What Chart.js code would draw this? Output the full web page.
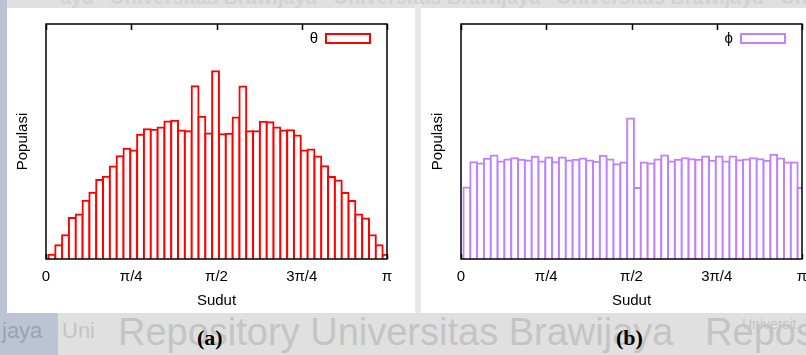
<!DOCTYPE html>
<html>
<head>
<meta charset="utf-8">
<script src="https://cdn.jsdelivr.net/npm/chart.js@4.4.1/dist/chart.umd.min.js"></script>
<style>
html,body{margin:0;padding:0;width:806px;height:355px;overflow:hidden;background:#e0e0e0;position:relative;}
#strip{position:absolute;left:0;top:0;width:7px;height:313px;background:#bcc3d4;}
#strip2{position:absolute;left:0;top:313px;width:58px;height:42px;background:#bcc3d4;}
#gap{position:absolute;left:415px;top:0;width:6px;height:313px;background:#e8e8e8;}
.panel{position:absolute;background:#fff;top:8px;height:305px;}
canvas{position:absolute;top:0;}
.cap{position:absolute;top:325px;font:bold 22px "Liberation Serif",serif;color:#000;}
.wm{position:absolute;font-family:"Liberation Sans",sans-serif;color:#c4c4c4;white-space:nowrap;}
</style>
</head>
<body>
<div id="strip"></div>
<div id="strip2"></div>
<div id="gap"></div>
<div class="wm" style="left:60px;top:-14px;font-size:20px;font-weight:bold;color:#d2d2d2;">aya &nbsp; Universitas Brawijaya &nbsp; Universitas Brawijaya &nbsp; Universitas Brawijaya &nbsp; Universitas</div>
<div class="wm" style="left:2px;top:318px;font-size:22px;color:#9aa2b4;">jaya</div>
<div class="wm" style="left:62px;top:318px;font-size:22px;">Uni</div>
<div class="wm" style="left:118px;top:311px;font-size:38px;">Repository Universitas Brawijaya &nbsp; Reposi</div>
<div class="wm" style="left:742px;top:316px;font-size:14px;">Universit</div>
<div class="panel" style="left:7px;width:408px;"></div>
<div class="panel" style="left:421px;width:385px;"></div>
<canvas id="c1" width="415" height="320" style="left:0px;"></canvas>
<canvas id="c2" width="415" height="320" style="left:415px;"></canvas>
<div class="cap" style="left:197px;">(a)</div>
<div class="cap" style="left:616px;">(b)</div>
<script>
// ---- data ----
const binCount = 50;
const binOffset = 0.86; // bin centres relative to bin index, in bin widths
const tickValues = [0, Math.PI / 4, Math.PI / 2, 3 * Math.PI / 4, Math.PI];
const tickLabels = ['0', 'π/4', 'π/2', '3π/4', 'π'];
const thetaValues = [13, 41, 71, 123, 134, 175, 199, 237, 247, 278,
                     309, 331, 326, 373, 390, 388, 395, 413, 415, 386,
                     384, 519, 427, 377, 564, 375, 376, 425, 518, 384,
                     384, 412, 411, 395, 386, 387, 371, 326, 329, 308,
                     279, 246, 236, 198, 174, 134, 122, 71, 41, 13];
const phiValues = [215, 291, 287, 301, 311, 293, 299, 303, 298, 296,
                   307, 293, 305, 291, 305, 296, 298, 302, 296, 292,
                   310, 299, 285, 290, 422, 213, 290, 287, 299, 311,
                   293, 298, 303, 300, 298, 308, 295, 308, 293, 308,
                   297, 299, 303, 300, 295, 313, 302, 290, 290, 213];
const yMax = 706;
const binCenters = thetaValues.map((_, i) => (i + binOffset) * Math.PI / binCount);

const FONT = '"Liberation Sans", Arial, sans-serif';

const framePlugin = {
  id: 'frame',
  beforeDatasetsDraw(chart) {
    const {ctx, chartArea: a, scales: {x}} = chart;
    ctx.save();
    ctx.strokeStyle = '#000';
    ctx.lineWidth = 1.5;
    tickValues.forEach(v => {
      const px = Math.round(x.getPixelForValue(v)) + 0.5;
      ctx.beginPath();
      ctx.moveTo(px, a.bottom);
      ctx.lineTo(px, a.bottom - 5);
      ctx.stroke();
    });
    ctx.restore();
  },
  afterDatasetsDraw(chart) {
    const {ctx, chartArea: a, scales: {x}} = chart;
    const ds = chart.data.datasets[0];
    ctx.save();
    ctx.strokeStyle = '#000';
    ctx.lineWidth = 1.5;
    tickValues.forEach(v => {
      const px = Math.round(x.getPixelForValue(v)) + 0.5;
      ctx.beginPath();
      ctx.moveTo(px, a.top);
      ctx.lineTo(px, a.top + 6);
      ctx.stroke();
    });
    ctx.strokeRect(a.left, a.top, a.right - a.left, a.bottom - a.top);
    // legend
    const bx = a.right - 61, by = a.top + 10;
    ctx.strokeStyle = ds.borderColor;
    ctx.lineWidth = 2;
    ctx.strokeRect(bx, by, 44, 9);
    ctx.fillStyle = '#000';
    ctx.font = '15px ' + FONT;
    ctx.textAlign = 'right';
    ctx.textBaseline = 'middle';
    ctx.fillText(ds.label, bx - 8, by + 5);
    ctx.restore();
  }
};

function makeChart(id, label, values, color) {
  return new Chart(document.getElementById(id), {
    type: 'bar',
    data: {
      datasets: [{
        label: label,
        data: values.map((v, i) => ({x: binCenters[i], y: v})),
        borderColor: color,
        backgroundColor: '#ffffff',
        borderWidth: 2,
        borderSkipped: 'start',
        inflateAmount: 1,
        barPercentage: 1,
        categoryPercentage: 1,
        clip: 0
      }]
    },
    options: {
      responsive: false,
      animation: false,
      devicePixelRatio: 1,
      layout: {padding: {left: 0, top: 24, right: 28, bottom: 0}},
      plugins: {legend: {display: false}, tooltip: {enabled: false}},
      scales: {
        x: {
          type: 'linear',
          offset: false,
          min: 0,
          max: Math.PI,
          grid: {display: false, drawTicks: false, offset: false},
          border: {display: false},
          afterBuildTicks: s => { s.ticks = tickValues.map(v => ({value: v})); },
          afterFit: s => { s.height = 61; },
          ticks: {
            padding: 9,
            color: '#000',
            font: {family: FONT, size: 15},
            maxRotation: 0,
            autoSkip: false,
            callback: (v, i) => tickLabels[i]
          },
          title: {display: true, text: 'Sudut', color: '#000',
                  font: {family: FONT, size: 15}, padding: {top: 0, bottom: 10}}
        },
        y: {
          min: 0,
          max: yMax,
          grid: {display: false, drawTicks: false},
          border: {display: false},
          ticks: {display: false},
          afterFit: s => { s.width = 46; },
          title: {display: true, text: 'Populasi', color: '#000',
                  font: {family: FONT, size: 15}, padding: {top: 14, bottom: 0}}
        }
      }
    },
    plugins: [framePlugin]
  });
}

makeChart('c1', 'θ', thetaValues, '#ff0000');
makeChart('c2', 'ϕ', phiValues, '#c080ff');
</script>
</body>
</html>
